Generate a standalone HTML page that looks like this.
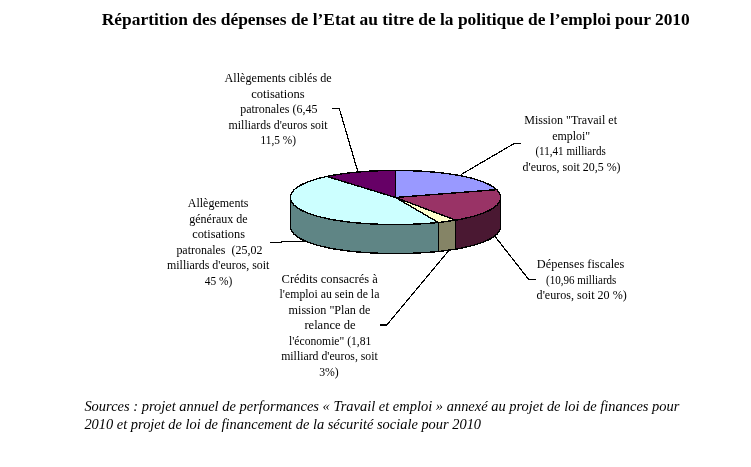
<!DOCTYPE html>
<html><head><meta charset="utf-8"><style>
html,body{margin:0;padding:0;background:#fff;}
svg{display:block;will-change:transform;}
.label{font-family:"Liberation Serif",serif;font-size:12.5px;}
.title{font-family:"Liberation Serif",serif;font-size:16.5px;font-weight:bold;}
.src{font-family:"Liberation Serif",serif;font-size:14.3px;font-style:italic;}
</style></head><body>
<svg width="751" height="467" viewBox="0 0 751 467">

<g stroke="none">
<polygon points="500.50,197.50 500.50,197.66 500.50,197.82 500.49,197.97 500.48,198.13 500.47,198.29 500.46,198.45 500.44,198.60 500.42,198.76 500.40,198.92 500.37,199.08 500.34,199.24 500.31,199.39 500.28,199.55 500.24,199.71 500.20,199.87 500.15,200.02 500.11,200.18 500.06,200.34 500.00,200.50 499.95,200.65 499.89,200.81 499.83,200.97 499.76,201.13 499.69,201.28 499.62,201.44 499.54,201.60 499.46,201.75 499.38,201.91 499.29,202.07 499.20,202.23 499.11,202.38 499.02,202.54 498.92,202.69 498.81,202.85 498.71,203.01 498.60,203.16 498.49,203.32 498.37,203.47 498.25,203.63 498.13,203.79 498.00,203.94 497.87,204.10 497.74,204.25 497.60,204.41 497.46,204.56 497.32,204.72 497.17,204.87 497.02,205.02 496.87,205.18 496.71,205.33 496.55,205.48 496.38,205.64 496.21,205.79 496.04,205.94 495.87,206.10 495.69,206.25 495.51,206.40 495.32,206.55 495.13,206.70 494.94,206.86 494.74,207.01 494.54,207.16 494.34,207.31 494.13,207.46 493.92,207.61 493.71,207.76 493.49,207.91 493.27,208.06 493.05,208.20 492.82,208.35 492.59,208.50 492.35,208.65 492.11,208.80 491.87,208.94 491.62,209.09 491.37,209.24 491.12,209.38 490.87,209.53 490.61,209.67 490.34,209.82 490.08,209.96 489.80,210.10 489.53,210.25 489.25,210.39 488.97,210.53 488.69,210.68 488.40,210.82 488.11,210.96 487.82,211.10 487.52,211.24 487.22,211.38 486.91,211.52 486.60,211.66 486.29,211.80 485.97,211.94 485.66,212.07 485.33,212.21 485.01,212.35 484.68,212.48 484.35,212.62 484.01,212.75 483.67,212.89 483.33,213.02 482.99,213.15 482.64,213.29 482.28,213.42 481.93,213.55 481.57,213.68 481.21,213.81 480.84,213.94 480.47,214.07 480.10,214.20 479.73,214.33 479.35,214.46 478.97,214.58 478.58,214.71 478.20,214.84 477.80,214.96 477.41,215.08 477.01,215.21 476.61,215.33 476.21,215.45 475.80,215.58 475.39,215.70 474.98,215.82 474.57,215.94 474.15,216.06 473.73,216.17 473.30,216.29 472.88,216.41 472.44,216.53 472.01,216.64 471.58,216.76 471.14,216.87 470.70,216.98 470.25,217.10 469.80,217.21 469.35,217.32 468.90,217.43 468.45,217.54 467.99,217.65 467.53,217.76 467.06,217.86 466.60,217.97 466.13,218.08 465.66,218.18 465.18,218.28 464.70,218.39 464.22,218.49 463.74,218.59 463.26,218.69 462.77,218.79 462.28,218.89 461.79,218.99 461.30,219.09 460.80,219.19 460.30,219.28 459.80,219.38 459.30,219.47 458.79,219.57 458.28,219.66 457.77,219.75 457.26,219.84 456.74,219.93 456.23,220.02 455.71,220.11 455.71,249.11 456.23,249.02 456.74,248.93 457.26,248.84 457.77,248.75 458.28,248.66 458.79,248.57 459.30,248.47 459.80,248.38 460.30,248.28 460.80,248.19 461.30,248.09 461.79,247.99 462.28,247.89 462.77,247.79 463.26,247.69 463.74,247.59 464.22,247.49 464.70,247.39 465.18,247.28 465.66,247.18 466.13,247.08 466.60,246.97 467.06,246.86 467.53,246.76 467.99,246.65 468.45,246.54 468.90,246.43 469.35,246.32 469.80,246.21 470.25,246.10 470.70,245.98 471.14,245.87 471.58,245.76 472.01,245.64 472.44,245.53 472.88,245.41 473.30,245.29 473.73,245.17 474.15,245.06 474.57,244.94 474.98,244.82 475.39,244.70 475.80,244.58 476.21,244.45 476.61,244.33 477.01,244.21 477.41,244.08 477.80,243.96 478.20,243.84 478.58,243.71 478.97,243.58 479.35,243.46 479.73,243.33 480.10,243.20 480.47,243.07 480.84,242.94 481.21,242.81 481.57,242.68 481.93,242.55 482.28,242.42 482.64,242.29 482.99,242.15 483.33,242.02 483.67,241.89 484.01,241.75 484.35,241.62 484.68,241.48 485.01,241.35 485.33,241.21 485.66,241.07 485.97,240.94 486.29,240.80 486.60,240.66 486.91,240.52 487.22,240.38 487.52,240.24 487.82,240.10 488.11,239.96 488.40,239.82 488.69,239.68 488.97,239.53 489.25,239.39 489.53,239.25 489.80,239.10 490.08,238.96 490.34,238.82 490.61,238.67 490.87,238.53 491.12,238.38 491.37,238.24 491.62,238.09 491.87,237.94 492.11,237.80 492.35,237.65 492.59,237.50 492.82,237.35 493.05,237.20 493.27,237.06 493.49,236.91 493.71,236.76 493.92,236.61 494.13,236.46 494.34,236.31 494.54,236.16 494.74,236.01 494.94,235.86 495.13,235.70 495.32,235.55 495.51,235.40 495.69,235.25 495.87,235.10 496.04,234.94 496.21,234.79 496.38,234.64 496.55,234.48 496.71,234.33 496.87,234.18 497.02,234.02 497.17,233.87 497.32,233.72 497.46,233.56 497.60,233.41 497.74,233.25 497.87,233.10 498.00,232.94 498.13,232.79 498.25,232.63 498.37,232.47 498.49,232.32 498.60,232.16 498.71,232.01 498.81,231.85 498.92,231.69 499.02,231.54 499.11,231.38 499.20,231.23 499.29,231.07 499.38,230.91 499.46,230.75 499.54,230.60 499.62,230.44 499.69,230.28 499.76,230.13 499.83,229.97 499.89,229.81 499.95,229.65 500.00,229.50 500.06,229.34 500.11,229.18 500.15,229.02 500.20,228.87 500.24,228.71 500.28,228.55 500.31,228.39 500.34,228.24 500.37,228.08 500.40,227.92 500.42,227.76 500.44,227.60 500.46,227.45 500.47,227.29 500.48,227.13 500.49,226.97 500.50,226.82 500.50,226.66 500.50,226.50" fill="#4A1832"/>
<polygon points="455.71,220.11 455.18,220.20 454.64,220.29 454.11,220.38 453.57,220.46 453.03,220.55 452.48,220.64 451.94,220.72 451.39,220.80 450.84,220.88 450.29,220.97 449.74,221.05 449.18,221.13 448.63,221.21 448.07,221.28 447.51,221.36 446.95,221.44 446.38,221.51 445.82,221.58 445.25,221.66 444.68,221.73 444.11,221.80 443.54,221.87 442.96,221.94 442.39,222.01 441.81,222.08 441.23,222.14 440.65,222.21 440.07,222.27 439.48,222.34 438.90,222.40 438.31,222.46 438.31,251.46 438.90,251.40 439.48,251.34 440.07,251.27 440.65,251.21 441.23,251.14 441.81,251.08 442.39,251.01 442.96,250.94 443.54,250.87 444.11,250.80 444.68,250.73 445.25,250.66 445.82,250.58 446.38,250.51 446.95,250.44 447.51,250.36 448.07,250.28 448.63,250.21 449.18,250.13 449.74,250.05 450.29,249.97 450.84,249.88 451.39,249.80 451.94,249.72 452.48,249.64 453.03,249.55 453.57,249.46 454.11,249.38 454.64,249.29 455.18,249.20 455.71,249.11" fill="#858466"/>
<polygon points="438.31,222.46 437.74,222.52 437.17,222.58 436.59,222.64 436.01,222.69 435.43,222.75 434.85,222.80 434.27,222.86 433.69,222.91 433.11,222.96 432.52,223.01 431.94,223.07 431.35,223.11 430.77,223.16 430.18,223.21 429.59,223.26 429.00,223.30 428.41,223.35 427.82,223.39 427.22,223.44 426.63,223.48 426.03,223.52 425.44,223.56 424.84,223.60 424.25,223.64 423.65,223.68 423.05,223.71 422.45,223.75 421.85,223.78 421.25,223.82 420.65,223.85 420.05,223.88 419.45,223.92 418.84,223.95 418.24,223.98 417.64,224.01 417.03,224.03 416.43,224.06 415.82,224.09 415.21,224.11 414.61,224.14 414.00,224.16 413.39,224.19 412.79,224.21 412.18,224.23 411.57,224.25 410.96,224.27 410.35,224.29 409.74,224.31 409.14,224.32 408.53,224.34 407.92,224.35 407.31,224.37 406.70,224.38 406.09,224.40 405.47,224.41 404.86,224.42 404.25,224.43 403.64,224.44 403.03,224.45 402.42,224.46 401.81,224.46 401.20,224.47 400.59,224.48 399.97,224.48 399.36,224.49 398.75,224.49 398.14,224.49 397.53,224.50 396.92,224.50 396.31,224.50 395.69,224.50 395.08,224.50 394.47,224.50 393.86,224.50 393.25,224.50 392.64,224.49 392.02,224.49 391.41,224.49 390.80,224.48 390.19,224.48 389.58,224.47 388.97,224.46 388.36,224.45 387.74,224.45 387.13,224.44 386.52,224.43 385.91,224.42 385.30,224.40 384.69,224.39 384.08,224.38 383.47,224.36 382.86,224.35 382.25,224.33 381.64,224.32 381.03,224.30 380.42,224.28 379.81,224.26 379.21,224.24 378.60,224.22 377.99,224.20 377.38,224.18 376.78,224.15 376.17,224.13 375.56,224.10 374.96,224.08 374.35,224.05 373.75,224.02 373.14,224.00 372.54,223.97 371.94,223.94 371.33,223.90 370.73,223.87 370.13,223.84 369.53,223.81 368.93,223.77 368.33,223.74 367.73,223.70 367.13,223.66 366.53,223.62 365.94,223.59 365.34,223.55 364.75,223.50 364.15,223.46 363.56,223.42 362.97,223.38 362.38,223.33 361.78,223.29 361.19,223.24 360.61,223.19 360.02,223.15 359.43,223.10 358.85,223.05 358.26,223.00 357.68,222.94 357.09,222.89 356.51,222.84 355.93,222.78 355.35,222.73 354.78,222.67 354.20,222.62 353.62,222.56 353.05,222.50 352.48,222.44 351.90,222.38 351.33,222.32 350.77,222.25 350.20,222.19 349.63,222.13 349.07,222.06 348.50,222.00 347.94,221.93 347.38,221.86 346.82,221.79 346.27,221.72 345.71,221.65 345.16,221.58 344.61,221.51 344.06,221.44 343.51,221.36 342.96,221.29 342.41,221.21 341.87,221.13 341.33,221.06 340.79,220.98 340.25,220.90 339.72,220.82 339.18,220.74 338.65,220.66 338.12,220.57 337.59,220.49 337.06,220.40 336.54,220.32 336.02,220.23 335.50,220.15 334.98,220.06 334.46,219.97 333.95,219.88 333.44,219.79 332.93,219.70 332.42,219.61 331.92,219.51 331.41,219.42 330.91,219.32 330.41,219.23 329.92,219.13 329.43,219.03 328.93,218.94 328.45,218.84 327.96,218.74 327.48,218.64 326.99,218.54 326.52,218.44 326.04,218.33 325.57,218.23 325.09,218.12 324.63,218.02 324.16,217.91 323.70,217.81 323.24,217.70 322.78,217.59 322.32,217.48 321.87,217.37 321.42,217.26 320.97,217.15 320.53,217.04 320.09,216.93 319.65,216.81 319.21,216.70 318.78,216.59 318.35,216.47 317.92,216.35 317.50,216.24 317.08,216.12 316.66,216.00 316.24,215.88 315.83,215.76 315.42,215.64 315.01,215.52 314.61,215.40 314.21,215.28 313.81,215.15 313.42,215.03 313.03,214.91 312.64,214.78 312.25,214.66 311.87,214.53 311.49,214.40 311.12,214.28 310.75,214.15 310.38,214.02 310.01,213.89 309.65,213.76 309.29,213.63 308.93,213.50 308.58,213.37 308.23,213.24 307.88,213.10 307.54,212.97 307.20,212.84 306.86,212.70 306.53,212.57 306.20,212.43 305.88,212.30 305.55,212.16 305.23,212.03 304.92,211.89 304.60,211.75 304.29,211.61 303.99,211.47 303.68,211.33 303.39,211.19 303.09,211.05 302.80,210.91 302.51,210.77 302.22,210.63 301.94,210.49 301.66,210.35 301.39,210.21 301.11,210.06 300.85,209.92 300.58,209.77 300.32,209.63 300.06,209.49 299.81,209.34 299.56,209.20 299.31,209.05 299.07,208.90 298.82,208.76 298.59,208.61 298.35,208.46 298.12,208.32 297.90,208.17 297.68,208.02 297.46,207.87 297.24,207.72 297.03,207.57 296.82,207.42 296.61,207.27 296.41,207.12 296.21,206.97 296.02,206.82 295.83,206.67 295.64,206.52 295.46,206.37 295.27,206.22 295.10,206.07 294.92,205.91 294.75,205.76 294.59,205.61 294.42,205.46 294.26,205.30 294.11,205.15 293.95,205.00 293.80,204.84 293.66,204.69 293.52,204.54 293.38,204.38 293.24,204.23 293.11,204.07 292.98,203.92 292.85,203.76 292.73,203.61 292.61,203.45 292.50,203.30 292.39,203.14 292.28,202.99 292.17,202.83 292.07,202.68 291.97,202.52 291.88,202.36 291.79,202.21 291.70,202.05 291.61,201.90 291.53,201.74 291.45,201.58 291.38,201.43 291.30,201.27 291.24,201.11 291.17,200.96 291.11,200.80 291.05,200.64 290.99,200.49 290.94,200.33 290.89,200.17 290.84,200.02 290.80,199.86 290.76,199.70 290.72,199.54 290.69,199.39 290.66,199.23 290.63,199.07 290.60,198.92 290.58,198.76 290.56,198.60 290.54,198.44 290.53,198.29 290.52,198.13 290.51,197.97 290.50,197.81 290.50,197.66 290.50,197.50 290.50,226.50 290.50,226.66 290.50,226.81 290.51,226.97 290.52,227.13 290.53,227.29 290.54,227.44 290.56,227.60 290.58,227.76 290.60,227.92 290.63,228.07 290.66,228.23 290.69,228.39 290.72,228.54 290.76,228.70 290.80,228.86 290.84,229.02 290.89,229.17 290.94,229.33 290.99,229.49 291.05,229.64 291.11,229.80 291.17,229.96 291.24,230.11 291.30,230.27 291.38,230.43 291.45,230.58 291.53,230.74 291.61,230.90 291.70,231.05 291.79,231.21 291.88,231.36 291.97,231.52 292.07,231.68 292.17,231.83 292.28,231.99 292.39,232.14 292.50,232.30 292.61,232.45 292.73,232.61 292.85,232.76 292.98,232.92 293.11,233.07 293.24,233.23 293.38,233.38 293.52,233.54 293.66,233.69 293.80,233.84 293.95,234.00 294.11,234.15 294.26,234.30 294.42,234.46 294.59,234.61 294.75,234.76 294.92,234.91 295.10,235.07 295.27,235.22 295.46,235.37 295.64,235.52 295.83,235.67 296.02,235.82 296.21,235.97 296.41,236.12 296.61,236.27 296.82,236.42 297.03,236.57 297.24,236.72 297.46,236.87 297.68,237.02 297.90,237.17 298.12,237.32 298.35,237.46 298.59,237.61 298.82,237.76 299.07,237.90 299.31,238.05 299.56,238.20 299.81,238.34 300.06,238.49 300.32,238.63 300.58,238.77 300.85,238.92 301.11,239.06 301.39,239.21 301.66,239.35 301.94,239.49 302.22,239.63 302.51,239.77 302.80,239.91 303.09,240.05 303.39,240.19 303.68,240.33 303.99,240.47 304.29,240.61 304.60,240.75 304.92,240.89 305.23,241.03 305.55,241.16 305.88,241.30 306.20,241.43 306.53,241.57 306.86,241.70 307.20,241.84 307.54,241.97 307.88,242.10 308.23,242.24 308.58,242.37 308.93,242.50 309.29,242.63 309.65,242.76 310.01,242.89 310.38,243.02 310.75,243.15 311.12,243.28 311.49,243.40 311.87,243.53 312.25,243.66 312.64,243.78 313.03,243.91 313.42,244.03 313.81,244.15 314.21,244.28 314.61,244.40 315.01,244.52 315.42,244.64 315.83,244.76 316.24,244.88 316.66,245.00 317.08,245.12 317.50,245.24 317.92,245.35 318.35,245.47 318.78,245.59 319.21,245.70 319.65,245.81 320.09,245.93 320.53,246.04 320.97,246.15 321.42,246.26 321.87,246.37 322.32,246.48 322.78,246.59 323.24,246.70 323.70,246.81 324.16,246.91 324.63,247.02 325.09,247.12 325.57,247.23 326.04,247.33 326.52,247.44 326.99,247.54 327.48,247.64 327.96,247.74 328.45,247.84 328.93,247.94 329.43,248.03 329.92,248.13 330.41,248.23 330.91,248.32 331.41,248.42 331.92,248.51 332.42,248.61 332.93,248.70 333.44,248.79 333.95,248.88 334.46,248.97 334.98,249.06 335.50,249.15 336.02,249.23 336.54,249.32 337.06,249.40 337.59,249.49 338.12,249.57 338.65,249.66 339.18,249.74 339.72,249.82 340.25,249.90 340.79,249.98 341.33,250.06 341.87,250.13 342.41,250.21 342.96,250.29 343.51,250.36 344.06,250.44 344.61,250.51 345.16,250.58 345.71,250.65 346.27,250.72 346.82,250.79 347.38,250.86 347.94,250.93 348.50,251.00 349.07,251.06 349.63,251.13 350.20,251.19 350.77,251.25 351.33,251.32 351.90,251.38 352.48,251.44 353.05,251.50 353.62,251.56 354.20,251.62 354.78,251.67 355.35,251.73 355.93,251.78 356.51,251.84 357.09,251.89 357.68,251.94 358.26,252.00 358.85,252.05 359.43,252.10 360.02,252.15 360.61,252.19 361.19,252.24 361.78,252.29 362.38,252.33 362.97,252.38 363.56,252.42 364.15,252.46 364.75,252.50 365.34,252.55 365.94,252.59 366.53,252.62 367.13,252.66 367.73,252.70 368.33,252.74 368.93,252.77 369.53,252.81 370.13,252.84 370.73,252.87 371.33,252.90 371.94,252.94 372.54,252.97 373.14,253.00 373.75,253.02 374.35,253.05 374.96,253.08 375.56,253.10 376.17,253.13 376.78,253.15 377.38,253.18 377.99,253.20 378.60,253.22 379.21,253.24 379.81,253.26 380.42,253.28 381.03,253.30 381.64,253.32 382.25,253.33 382.86,253.35 383.47,253.36 384.08,253.38 384.69,253.39 385.30,253.40 385.91,253.42 386.52,253.43 387.13,253.44 387.74,253.45 388.36,253.45 388.97,253.46 389.58,253.47 390.19,253.48 390.80,253.48 391.41,253.49 392.02,253.49 392.64,253.49 393.25,253.50 393.86,253.50 394.47,253.50 395.08,253.50 395.69,253.50 396.31,253.50 396.92,253.50 397.53,253.50 398.14,253.49 398.75,253.49 399.36,253.49 399.97,253.48 400.59,253.48 401.20,253.47 401.81,253.46 402.42,253.46 403.03,253.45 403.64,253.44 404.25,253.43 404.86,253.42 405.47,253.41 406.09,253.40 406.70,253.38 407.31,253.37 407.92,253.35 408.53,253.34 409.14,253.32 409.74,253.31 410.35,253.29 410.96,253.27 411.57,253.25 412.18,253.23 412.79,253.21 413.39,253.19 414.00,253.16 414.61,253.14 415.21,253.11 415.82,253.09 416.43,253.06 417.03,253.03 417.64,253.01 418.24,252.98 418.84,252.95 419.45,252.92 420.05,252.88 420.65,252.85 421.25,252.82 421.85,252.78 422.45,252.75 423.05,252.71 423.65,252.68 424.25,252.64 424.84,252.60 425.44,252.56 426.03,252.52 426.63,252.48 427.22,252.44 427.82,252.39 428.41,252.35 429.00,252.30 429.59,252.26 430.18,252.21 430.77,252.16 431.35,252.11 431.94,252.07 432.52,252.01 433.11,251.96 433.69,251.91 434.27,251.86 434.85,251.80 435.43,251.75 436.01,251.69 436.59,251.64 437.17,251.58 437.74,251.52 438.31,251.46" fill="#5F8585"/>
<polygon points="395.50,197.50 395.50,170.50 396.11,170.50 396.73,170.50 397.34,170.50 397.95,170.50 398.56,170.51 399.18,170.51 399.79,170.52 400.40,170.52 401.01,170.53 401.62,170.53 402.24,170.54 402.85,170.55 403.46,170.56 404.07,170.57 404.69,170.58 405.30,170.59 405.91,170.60 406.52,170.61 407.13,170.63 407.74,170.64 408.35,170.66 408.96,170.67 409.57,170.69 410.18,170.71 410.79,170.73 411.40,170.75 412.01,170.77 412.62,170.79 413.23,170.81 413.84,170.83 414.45,170.86 415.05,170.88 415.66,170.91 416.27,170.93 416.87,170.96 417.48,170.99 418.08,171.02 418.69,171.05 419.29,171.08 419.89,171.11 420.50,171.14 421.10,171.17 421.70,171.21 422.30,171.24 422.90,171.28 423.50,171.31 424.10,171.35 424.70,171.39 425.30,171.43 425.89,171.47 426.49,171.51 427.08,171.55 427.68,171.60 428.27,171.64 428.86,171.69 429.45,171.73 430.04,171.78 430.63,171.83 431.22,171.87 431.81,171.92 432.40,171.97 432.98,172.03 433.57,172.08 434.15,172.13 434.73,172.18 435.31,172.24 435.89,172.29 436.47,172.35 437.05,172.41 437.62,172.47 438.20,172.53 438.77,172.59 439.34,172.65 439.91,172.71 440.48,172.77 441.05,172.84 441.62,172.90 442.18,172.97 442.74,173.03 443.31,173.10 443.87,173.17 444.42,173.24 444.98,173.31 445.54,173.38 446.09,173.45 446.64,173.52 447.19,173.60 447.74,173.67 448.29,173.75 448.83,173.82 449.38,173.90 449.92,173.98 450.46,174.06 451.00,174.14 451.53,174.22 452.07,174.30 452.60,174.38 453.13,174.47 453.66,174.55 454.18,174.64 454.71,174.72 455.23,174.81 455.75,174.90 456.27,174.98 456.78,175.07 457.30,175.16 457.81,175.26 458.32,175.35 458.83,175.44 459.33,175.53 459.83,175.63 460.33,175.72 460.83,175.82 461.33,175.92 461.82,176.01 462.31,176.11 462.80,176.21 463.28,176.31 463.77,176.41 464.25,176.51 464.73,176.62 465.20,176.72 465.67,176.82 466.14,176.93 466.61,177.03 467.08,177.14 467.54,177.25 468.00,177.36 468.46,177.46 468.91,177.57 469.36,177.68 469.81,177.80 470.26,177.91 470.70,178.02 471.14,178.13 471.58,178.25 472.02,178.36 472.45,178.48 472.88,178.59 473.30,178.71 473.73,178.83 474.15,178.94 474.57,179.06 474.98,179.18 475.39,179.30 475.80,179.42 476.21,179.54 476.61,179.67 477.01,179.79 477.40,179.91 477.80,180.04 478.19,180.16 478.57,180.29 478.96,180.41 479.34,180.54 479.72,180.67 480.09,180.80 480.46,180.92 480.83,181.05 481.19,181.18 481.56,181.31 481.91,181.44 482.27,181.57 482.62,181.71 482.97,181.84 483.31,181.97 483.66,182.11 483.99,182.24 484.33,182.37 484.66,182.51 484.99,182.65 485.31,182.78 485.64,182.92 485.95,183.06 486.27,183.19 486.58,183.33 486.89,183.47 487.19,183.61 487.49,183.75 487.79,183.89 488.09,184.03 488.38,184.17 488.66,184.31 488.95,184.45 489.23,184.60 489.51,184.74 489.78,184.88 490.05,185.03 490.32,185.17 490.58,185.31 490.84,185.46 491.10,185.60 491.35,185.75 491.60,185.90 491.84,186.04 492.08,186.19 492.32,186.33 492.56,186.48 492.79,186.63 493.02,186.78 493.24,186.93 493.46,187.07 493.68,187.22 493.90,187.37 494.11,187.52 494.31,187.67 494.52,187.82 494.72,187.97 494.91,188.12 495.10,188.27 495.29,188.43 495.48,188.58 495.66,188.73 495.84,188.88 496.02,189.03 496.19,189.19 496.36,189.34 496.52,189.49 496.68,189.64" fill="#9999FF"/>
<polygon points="395.50,197.50 496.68,189.64 496.84,189.80 496.99,189.95 497.15,190.10 497.29,190.26 497.44,190.41 497.58,190.57 497.71,190.72 497.85,190.87 497.98,191.03 498.10,191.18 498.23,191.34 498.35,191.49 498.46,191.65 498.58,191.80 498.69,191.96 498.79,192.11 498.89,192.27 498.99,192.43 499.09,192.58 499.18,192.74 499.27,192.89 499.36,193.05 499.44,193.21 499.52,193.36 499.60,193.52 499.67,193.68 499.74,193.83 499.81,193.99 499.87,194.15 499.93,194.30 499.99,194.46 500.04,194.62 500.09,194.77 500.14,194.93 500.19,195.09 500.23,195.24 500.27,195.40 500.30,195.56 500.33,195.72 500.36,195.87 500.39,196.03 500.41,196.19 500.43,196.34 500.45,196.50 500.47,196.66 500.48,196.82 500.49,196.97 500.49,197.13 500.50,197.29 500.50,197.44 500.50,197.60 500.50,197.76 500.49,197.92 500.48,198.07 500.47,198.23 500.46,198.39 500.45,198.54 500.43,198.70 500.41,198.86 500.38,199.02 500.35,199.17 500.32,199.33 500.29,199.49 500.25,199.65 500.22,199.80 500.17,199.96 500.13,200.12 500.08,200.27 500.03,200.43 499.97,200.59 499.91,200.74 499.85,200.90 499.79,201.06 499.72,201.21 499.65,201.37 499.58,201.53 499.50,201.68 499.42,201.84 499.33,202.00 499.25,202.15 499.16,202.31 499.06,202.46 498.97,202.62 498.86,202.78 498.76,202.93 498.65,203.09 498.54,203.24 498.43,203.40 498.31,203.55 498.19,203.71 498.07,203.86 497.94,204.02 497.81,204.17 497.67,204.33 497.54,204.48 497.39,204.63 497.25,204.79 497.10,204.94 496.95,205.09 496.79,205.25 496.64,205.40 496.47,205.55 496.31,205.71 496.14,205.86 495.97,206.01 495.79,206.16 495.61,206.31 495.43,206.46 495.24,206.62 495.05,206.77 494.86,206.92 494.66,207.07 494.46,207.22 494.26,207.37 494.05,207.52 493.84,207.67 493.62,207.82 493.41,207.96 493.18,208.11 492.96,208.26 492.73,208.41 492.50,208.56 492.26,208.70 492.02,208.85 491.78,209.00 491.54,209.14 491.29,209.29 491.03,209.43 490.78,209.58 490.52,209.72 490.25,209.86 489.99,210.01 489.72,210.15 489.44,210.29 489.16,210.44 488.88,210.58 488.60,210.72 488.31,210.86 488.02,211.00 487.73,211.14 487.43,211.28 487.13,211.42 486.82,211.56 486.51,211.70 486.20,211.84 485.89,211.97 485.57,212.11 485.25,212.25 484.92,212.38 484.59,212.52 484.26,212.65 483.93,212.79 483.59,212.92 483.25,213.05 482.90,213.19 482.55,213.32 482.20,213.45 481.85,213.58 481.49,213.71 481.13,213.84 480.76,213.97 480.39,214.10 480.02,214.23 479.65,214.36 479.27,214.48 478.89,214.61 478.51,214.73 478.12,214.86 477.73,214.98 477.34,215.11 476.94,215.23 476.54,215.35 476.14,215.47 475.74,215.60 475.33,215.72 474.92,215.84 474.50,215.96 474.08,216.07 473.66,216.19 473.24,216.31 472.82,216.43 472.39,216.54 471.95,216.66 471.52,216.77 471.08,216.88 470.64,217.00 470.20,217.11 469.75,217.22 469.30,217.33 468.85,217.44 468.40,217.55 467.94,217.66 467.48,217.77 467.02,217.87 466.56,217.98 466.09,218.08 465.62,218.19 465.15,218.29 464.67,218.40 464.19,218.50 463.71,218.60 463.23,218.70 462.75,218.80 462.26,218.90 461.77,219.00 461.28,219.09 460.78,219.19 460.28,219.29 459.78,219.38 459.28,219.48 458.78,219.57 458.27,219.66 457.76,219.75 457.25,219.84 456.74,219.93 456.23,220.02 455.71,220.11" fill="#993366"/>
<polygon points="395.50,197.50 455.71,220.11 455.18,220.20 454.64,220.29 454.11,220.38 453.57,220.46 453.03,220.55 452.48,220.64 451.94,220.72 451.39,220.80 450.84,220.88 450.29,220.97 449.74,221.05 449.18,221.13 448.63,221.21 448.07,221.28 447.51,221.36 446.95,221.44 446.38,221.51 445.82,221.58 445.25,221.66 444.68,221.73 444.11,221.80 443.54,221.87 442.96,221.94 442.39,222.01 441.81,222.08 441.23,222.14 440.65,222.21 440.07,222.27 439.48,222.34 438.90,222.40 438.31,222.46" fill="#FFFFCC"/>
<polygon points="395.50,197.50 438.31,222.46 437.74,222.52 437.17,222.58 436.59,222.64 436.01,222.69 435.44,222.75 434.86,222.80 434.28,222.86 433.69,222.91 433.11,222.96 432.53,223.01 431.94,223.06 431.36,223.11 430.77,223.16 430.18,223.21 429.59,223.26 429.00,223.30 428.41,223.35 427.82,223.39 427.23,223.44 426.63,223.48 426.04,223.52 425.44,223.56 424.85,223.60 424.25,223.64 423.65,223.68 423.06,223.71 422.46,223.75 421.86,223.78 421.26,223.82 420.66,223.85 420.05,223.88 419.45,223.92 418.85,223.95 418.25,223.98 417.64,224.01 417.04,224.03 416.43,224.06 415.83,224.09 415.22,224.11 414.62,224.14 414.01,224.16 413.40,224.18 412.80,224.21 412.19,224.23 411.58,224.25 410.97,224.27 410.36,224.29 409.76,224.31 409.15,224.32 408.54,224.34 407.93,224.35 407.32,224.37 406.71,224.38 406.10,224.40 405.49,224.41 404.88,224.42 404.27,224.43 403.65,224.44 403.04,224.45 402.43,224.46 401.82,224.46 401.21,224.47 400.60,224.48 399.99,224.48 399.38,224.49 398.77,224.49 398.15,224.49 397.54,224.50 396.93,224.50 396.32,224.50 395.71,224.50 395.10,224.50 394.49,224.50 393.87,224.50 393.26,224.50 392.65,224.49 392.04,224.49 391.43,224.49 390.82,224.48 390.21,224.48 389.60,224.47 388.98,224.46 388.37,224.45 387.76,224.45 387.15,224.44 386.54,224.43 385.93,224.42 385.32,224.40 384.71,224.39 384.10,224.38 383.49,224.36 382.88,224.35 382.27,224.33 381.66,224.32 381.05,224.30 380.44,224.28 379.83,224.26 379.23,224.24 378.62,224.22 378.01,224.20 377.40,224.18 376.80,224.15 376.19,224.13 375.59,224.11 374.98,224.08 374.37,224.05 373.77,224.03 373.17,224.00 372.56,223.97 371.96,223.94 371.36,223.91 370.76,223.87 370.15,223.84 369.55,223.81 368.95,223.77 368.35,223.74 367.76,223.70 367.16,223.66 366.56,223.63 365.96,223.59 365.37,223.55 364.77,223.51 364.18,223.46 363.59,223.42 362.99,223.38 362.40,223.33 361.81,223.29 361.22,223.24 360.63,223.20 360.05,223.15 359.46,223.10 358.87,223.05 358.29,223.00 357.70,222.95 357.12,222.89 356.54,222.84 355.96,222.79 355.38,222.73 354.80,222.68 354.23,222.62 353.65,222.56 353.08,222.50 352.51,222.44 351.93,222.38 351.36,222.32 350.79,222.26 350.23,222.19 349.66,222.13 349.10,222.07 348.53,222.00 347.97,221.93 347.41,221.86 346.85,221.80 346.30,221.73 345.74,221.66 345.19,221.59 344.64,221.51 344.09,221.44 343.54,221.37 342.99,221.29 342.45,221.22 341.90,221.14 341.36,221.06 340.82,220.98 340.28,220.90 339.75,220.82 339.21,220.74 338.68,220.66 338.15,220.58 337.62,220.49 337.10,220.41 336.57,220.32 336.05,220.24 335.53,220.15 335.01,220.06 334.50,219.97 333.98,219.89 333.47,219.79 332.96,219.70 332.45,219.61 331.95,219.52 331.45,219.42 330.95,219.33 330.45,219.23 329.95,219.14 329.46,219.04 328.97,218.94 328.48,218.84 327.99,218.75 327.51,218.65 327.03,218.54 326.55,218.44 326.07,218.34 325.60,218.24 325.13,218.13 324.66,218.03 324.19,217.92 323.73,217.81 323.27,217.71 322.81,217.60 322.36,217.49 321.90,217.38 321.45,217.27 321.01,217.16 320.56,217.05 320.12,216.94 319.68,216.82 319.25,216.71 318.81,216.59 318.38,216.48 317.96,216.36 317.53,216.25 317.11,216.13 316.69,216.01 316.28,215.89 315.86,215.77 315.45,215.65 315.05,215.53 314.64,215.41 314.24,215.29 313.84,215.16 313.45,215.04 313.06,214.92 312.67,214.79 312.29,214.67 311.90,214.54 311.53,214.41 311.15,214.29 310.78,214.16 310.41,214.03 310.04,213.90 309.68,213.77 309.32,213.64 308.96,213.51 308.61,213.38 308.26,213.25 307.91,213.12 307.57,212.98 307.23,212.85 306.89,212.72 306.56,212.58 306.23,212.45 305.90,212.31 305.58,212.17 305.26,212.04 304.94,211.90 304.63,211.76 304.32,211.62 304.01,211.49 303.71,211.35 303.41,211.21 303.12,211.07 302.82,210.93 302.53,210.79 302.25,210.64 301.97,210.50 301.69,210.36 301.41,210.22 301.14,210.08 300.87,209.93 300.61,209.79 300.34,209.64 300.09,209.50 299.83,209.35 299.58,209.21 299.33,209.06 299.09,208.92 298.85,208.77 298.61,208.62 298.38,208.48 298.15,208.33 297.92,208.18 297.70,208.03 297.48,207.89 297.26,207.74 297.05,207.59 296.84,207.44 296.63,207.29 296.43,207.14 296.23,206.99 296.04,206.84 295.85,206.69 295.66,206.54 295.47,206.38 295.29,206.23 295.12,206.08 294.94,205.93 294.77,205.78 294.60,205.62 294.44,205.47 294.28,205.32 294.12,205.17 293.97,205.01 293.82,204.86 293.67,204.71 293.53,204.55 293.39,204.40 293.25,204.24 293.12,204.09 292.99,203.93 292.87,203.78 292.74,203.63 292.63,203.47 292.51,203.31 292.40,203.16 292.29,203.00 292.18,202.85 292.08,202.69 291.98,202.54 291.89,202.38 291.80,202.23 291.71,202.07 291.62,201.91 291.54,201.76 291.46,201.60 291.38,201.44 291.31,201.29 291.24,201.13 291.18,200.97 291.11,200.82 291.05,200.66 291.00,200.50 290.95,200.35 290.90,200.19 290.85,200.03 290.80,199.88 290.76,199.72 290.73,199.56 290.69,199.41 290.66,199.25 290.63,199.09 290.61,198.93 290.58,198.78 290.56,198.62 290.55,198.46 290.53,198.31 290.52,198.15 290.51,197.99 290.50,197.83 290.50,197.68 290.50,197.52 290.50,197.36 290.50,197.20 290.51,197.05 290.52,196.89 290.53,196.73 290.54,196.58 290.56,196.42 290.58,196.26 290.60,196.10 290.62,195.95 290.65,195.79 290.68,195.63 290.72,195.48 290.75,195.32 290.79,195.16 290.84,195.00 290.88,194.85 290.93,194.69 290.99,194.53 291.04,194.38 291.10,194.22 291.16,194.06 291.23,193.91 291.29,193.75 291.37,193.59 291.44,193.44 291.52,193.28 291.60,193.12 291.69,192.97 291.77,192.81 291.86,192.66 291.96,192.50 292.06,192.34 292.16,192.19 292.26,192.03 292.37,191.88 292.48,191.72 292.60,191.57 292.72,191.41 292.84,191.26 292.96,191.10 293.09,190.95 293.22,190.79 293.36,190.64 293.50,190.49 293.64,190.33 293.78,190.18 293.93,190.02 294.08,189.87 294.24,189.72 294.40,189.57 294.56,189.41 294.73,189.26 294.90,189.11 295.07,188.96 295.25,188.80 295.43,188.65 295.61,188.50 295.80,188.35 295.99,188.20 296.19,188.05 296.38,187.90 296.58,187.75 296.79,187.60 297.00,187.45 297.21,187.30 297.42,187.15 297.64,187.00 297.87,186.85 298.09,186.71 298.32,186.56 298.55,186.41 298.79,186.27 299.03,186.12 299.27,185.97 299.52,185.83 299.77,185.68 300.02,185.54 300.28,185.39 300.54,185.25 300.81,185.10 301.07,184.96 301.34,184.82 301.62,184.67 301.90,184.53 302.18,184.39 302.46,184.25 302.75,184.11 303.04,183.97 303.34,183.83 303.64,183.69 303.94,183.55 304.25,183.41 304.55,183.27 304.87,183.13 305.18,183.00 305.50,182.86 305.82,182.72 306.15,182.59 306.48,182.45 306.81,182.32 307.15,182.18 307.49,182.05 307.83,181.92 308.18,181.78 308.52,181.65 308.88,181.52 309.23,181.39 309.59,181.26 309.95,181.13 310.32,181.00 310.69,180.87 311.06,180.74 311.43,180.62 311.81,180.49 312.19,180.36 312.58,180.24 312.96,180.11 313.35,179.99 313.75,179.87 314.14,179.74 314.54,179.62 314.95,179.50 315.35,179.38 315.76,179.26 316.17,179.14 316.59,179.02 317.01,178.90 317.43,178.78 317.85,178.67 318.28,178.55 318.71,178.43 319.14,178.32 319.57,178.21 320.01,178.09 320.45,177.98 320.90,177.87 321.34,177.76 321.79,177.65 322.25,177.54 322.70,177.43 323.16,177.32 323.62,177.21 324.08,177.10 324.54,177.00 325.01,176.89 325.48,176.79 325.96,176.69 326.43,176.58 326.91,176.48" fill="#CCFFFF"/>
<polygon points="395.50,197.50 326.91,176.48 327.39,176.38 327.87,176.28 328.36,176.18 328.85,176.08 329.34,175.98 329.83,175.89 330.32,175.79 330.82,175.69 331.32,175.60 331.82,175.51 332.33,175.41 332.83,175.32 333.34,175.23 333.85,175.14 334.36,175.05 334.88,174.96 335.40,174.87 335.91,174.78 336.44,174.70 336.96,174.61 337.48,174.53 338.01,174.44 338.54,174.36 339.07,174.28 339.61,174.20 340.14,174.12 340.68,174.04 341.22,173.96 341.76,173.88 342.30,173.81 342.84,173.73 343.39,173.65 343.94,173.58 344.49,173.51 345.04,173.43 345.59,173.36 346.14,173.29 346.70,173.22 347.26,173.15 347.82,173.09 348.38,173.02 348.94,172.95 349.50,172.89 350.07,172.82 350.64,172.76 351.20,172.70 351.77,172.64 352.34,172.57 352.92,172.51 353.49,172.46 354.06,172.40 354.64,172.34 355.22,172.28 355.79,172.23 356.37,172.17 356.95,172.12 357.54,172.07 358.12,172.02 358.70,171.97 359.29,171.92 359.87,171.87 360.46,171.82 361.05,171.77 361.64,171.72 362.23,171.68 362.82,171.63 363.41,171.59 364.00,171.55 364.59,171.51 365.19,171.47 365.78,171.43 366.38,171.39 366.98,171.35 367.57,171.31 368.17,171.27 368.77,171.24 369.37,171.20 369.97,171.17 370.57,171.14 371.17,171.10 371.77,171.07 372.38,171.04 372.98,171.01 373.58,170.98 374.19,170.96 374.79,170.93 375.39,170.90 376.00,170.88 376.61,170.85 377.21,170.83 377.82,170.81 378.43,170.79 379.03,170.76 379.64,170.74 380.25,170.72 380.86,170.71 381.46,170.69 382.07,170.67 382.68,170.66 383.29,170.64 383.90,170.63 384.51,170.61 385.12,170.60 385.73,170.59 386.34,170.58 386.95,170.57 387.56,170.56 388.17,170.55 388.78,170.54 389.39,170.53 390.00,170.53 390.61,170.52 391.22,170.52 391.83,170.51 392.45,170.51 393.06,170.50 393.67,170.50 394.28,170.50 394.89,170.50 395.50,170.50" fill="#660066"/>
</g>
<g stroke="#000" stroke-width="1.4" fill="none" stroke-linejoin="round" shape-rendering="crispEdges">
<polygon points="395.50,170.50 396.11,170.50 396.72,170.50 397.33,170.50 397.94,170.50 398.55,170.51 399.17,170.51 399.78,170.52 400.39,170.52 401.00,170.53 401.61,170.53 402.22,170.54 402.83,170.55 403.44,170.56 404.05,170.57 404.66,170.58 405.27,170.59 405.88,170.60 406.49,170.61 407.10,170.63 407.71,170.64 408.32,170.66 408.93,170.67 409.54,170.69 410.14,170.71 410.75,170.72 411.36,170.74 411.97,170.76 412.57,170.79 413.18,170.81 413.79,170.83 414.39,170.85 415.00,170.88 415.61,170.90 416.21,170.93 416.81,170.96 417.42,170.98 418.02,171.01 418.62,171.04 419.23,171.07 419.83,171.10 420.43,171.14 421.03,171.17 421.63,171.20 422.23,171.24 422.83,171.27 423.43,171.31 424.02,171.35 424.62,171.39 425.22,171.43 425.81,171.47 426.41,171.51 427.00,171.55 427.59,171.59 428.18,171.63 428.77,171.68 429.36,171.72 429.95,171.77 430.54,171.82 431.13,171.87 431.71,171.92 432.30,171.97 432.88,172.02 433.46,172.07 434.05,172.12 434.63,172.17 435.21,172.23 435.78,172.28 436.36,172.34 436.94,172.40 437.51,172.46 438.08,172.51 438.66,172.57 439.23,172.64 439.80,172.70 440.36,172.76 440.93,172.82 441.50,172.89 442.06,172.95 442.62,173.02 443.18,173.09 443.74,173.15 444.30,173.22 444.86,173.29 445.41,173.36 445.96,173.43 446.51,173.51 447.06,173.58 447.61,173.65 448.16,173.73 448.70,173.81 449.24,173.88 449.78,173.96 450.32,174.04 450.86,174.12 451.39,174.20 451.93,174.28 452.46,174.36 452.99,174.44 453.52,174.53 454.04,174.61 454.56,174.70 455.09,174.78 455.60,174.87 456.12,174.96 456.64,175.05 457.15,175.14 457.66,175.23 458.17,175.32 458.67,175.41 459.18,175.51 459.68,175.60 460.18,175.69 460.68,175.79 461.17,175.89 461.66,175.98 462.15,176.08 462.64,176.18 463.13,176.28 463.61,176.38 464.09,176.48 464.57,176.58 465.04,176.69 465.52,176.79 465.99,176.89 466.45,177.00 466.92,177.10 467.38,177.21 467.84,177.32 468.30,177.43 468.75,177.53 469.20,177.64 469.65,177.75 470.10,177.87 470.54,177.98 470.98,178.09 471.42,178.20 471.85,178.32 472.29,178.43 472.72,178.55 473.14,178.66 473.57,178.78 473.99,178.90 474.40,179.02 474.82,179.14 475.23,179.25 475.64,179.38 476.04,179.50 476.45,179.62 476.85,179.74 477.24,179.86 477.64,179.99 478.03,180.11 478.41,180.23 478.80,180.36 479.18,180.49 479.56,180.61 479.93,180.74 480.30,180.87 480.67,181.00 481.04,181.13 481.40,181.26 481.76,181.39 482.11,181.52 482.46,181.65 482.81,181.78 483.16,181.91 483.50,182.04 483.84,182.18 484.17,182.31 484.51,182.45 484.84,182.58 485.16,182.72 485.48,182.85 485.80,182.99 486.12,183.13 486.43,183.26 486.74,183.40 487.05,183.54 487.35,183.68 487.65,183.82 487.94,183.96 488.23,184.10 488.52,184.24 488.81,184.38 489.09,184.52 489.37,184.67 489.64,184.81 489.91,184.95 490.18,185.10 490.44,185.24 490.70,185.38 490.96,185.53 491.22,185.67 491.47,185.82 491.71,185.96 491.96,186.11 492.20,186.26 492.43,186.40 492.66,186.55 492.89,186.70 493.12,186.84 493.34,186.99 493.56,187.14 493.78,187.29 493.99,187.44 494.20,187.59 494.40,187.74 494.60,187.89 494.80,188.04 494.99,188.19 495.19,188.34 495.37,188.49 495.56,188.64 495.74,188.79 495.91,188.94 496.09,189.10 496.26,189.25 496.42,189.40 496.59,189.55 496.75,189.71 496.90,189.86 497.06,190.01 497.20,190.17 497.35,190.32 497.49,190.47 497.63,190.63 497.77,190.78 497.90,190.93 498.03,191.09 498.15,191.24 498.27,191.40 498.39,191.55 498.51,191.71 498.62,191.86 498.73,192.02 498.83,192.17 498.93,192.33 499.03,192.49 499.13,192.64 499.22,192.80 499.31,192.95 499.39,193.11 499.47,193.27 499.55,193.42 499.63,193.58 499.70,193.73 499.77,193.89 499.83,194.05 499.89,194.20 499.95,194.36 500.01,194.52 500.06,194.67 500.11,194.83 500.16,194.99 500.20,195.14 500.24,195.30 500.28,195.46 500.31,195.62 500.34,195.77 500.37,195.93 500.40,196.09 500.42,196.24 500.44,196.40 500.46,196.56 500.47,196.71 500.48,196.87 500.49,197.03 500.50,197.19 500.50,197.34 500.50,197.50 500.50,197.66 500.50,197.81 500.49,197.97 500.48,198.13 500.47,198.29 500.46,198.44 500.44,198.60 500.42,198.76 500.40,198.91 500.37,199.07 500.34,199.23 500.31,199.38 500.28,199.54 500.24,199.70 500.20,199.86 500.16,200.01 500.11,200.17 500.06,200.33 500.01,200.48 499.95,200.64 499.89,200.80 499.83,200.95 499.77,201.11 499.70,201.27 499.63,201.42 499.55,201.58 499.47,201.73 499.39,201.89 499.31,202.05 499.22,202.20 499.13,202.36 499.03,202.51 498.93,202.67 498.83,202.83 498.73,202.98 498.62,203.14 498.51,203.29 498.39,203.45 498.27,203.60 498.15,203.76 498.03,203.91 497.90,204.07 497.77,204.22 497.63,204.37 497.49,204.53 497.35,204.68 497.20,204.83 497.06,204.99 496.90,205.14 496.75,205.29 496.59,205.45 496.42,205.60 496.26,205.75 496.09,205.90 495.91,206.06 495.74,206.21 495.56,206.36 495.37,206.51 495.19,206.66 494.99,206.81 494.80,206.96 494.60,207.11 494.40,207.26 494.20,207.41 493.99,207.56 493.78,207.71 493.56,207.86 493.34,208.01 493.12,208.16 492.89,208.30 492.66,208.45 492.43,208.60 492.20,208.74 491.96,208.89 491.71,209.04 491.47,209.18 491.22,209.33 490.96,209.47 490.70,209.62 490.44,209.76 490.18,209.90 489.91,210.05 489.64,210.19 489.37,210.33 489.09,210.48 488.81,210.62 488.52,210.76 488.23,210.90 487.94,211.04 487.65,211.18 487.35,211.32 487.05,211.46 486.74,211.60 486.43,211.74 486.12,211.87 485.80,212.01 485.48,212.15 485.16,212.28 484.84,212.42 484.51,212.55 484.17,212.69 483.84,212.82 483.50,212.96 483.16,213.09 482.81,213.22 482.46,213.35 482.11,213.48 481.76,213.61 481.40,213.74 481.04,213.87 480.67,214.00 480.30,214.13 479.93,214.26 479.56,214.39 479.18,214.51 478.80,214.64 478.41,214.77 478.03,214.89 477.64,215.01 477.24,215.14 476.85,215.26 476.45,215.38 476.04,215.50 475.64,215.62 475.23,215.75 474.82,215.86 474.40,215.98 473.99,216.10 473.57,216.22 473.14,216.34 472.72,216.45 472.29,216.57 471.85,216.68 471.42,216.80 470.98,216.91 470.54,217.02 470.10,217.13 469.65,217.25 469.20,217.36 468.75,217.47 468.30,217.57 467.84,217.68 467.38,217.79 466.92,217.90 466.45,218.00 465.99,218.11 465.52,218.21 465.04,218.31 464.57,218.42 464.09,218.52 463.61,218.62 463.13,218.72 462.64,218.82 462.15,218.92 461.66,219.02 461.17,219.11 460.68,219.21 460.18,219.31 459.68,219.40 459.18,219.49 458.67,219.59 458.17,219.68 457.66,219.77 457.15,219.86 456.64,219.95 456.12,220.04 455.60,220.13 455.09,220.22 454.56,220.30 454.04,220.39 453.52,220.47 452.99,220.56 452.46,220.64 451.93,220.72 451.39,220.80 450.86,220.88 450.32,220.96 449.78,221.04 449.24,221.12 448.70,221.19 448.16,221.27 447.61,221.35 447.06,221.42 446.51,221.49 445.96,221.57 445.41,221.64 444.86,221.71 444.30,221.78 443.74,221.85 443.18,221.91 442.62,221.98 442.06,222.05 441.50,222.11 440.93,222.18 440.36,222.24 439.80,222.30 439.23,222.36 438.66,222.43 438.08,222.49 437.51,222.54 436.94,222.60 436.36,222.66 435.78,222.72 435.21,222.77 434.63,222.83 434.05,222.88 433.46,222.93 432.88,222.98 432.30,223.03 431.71,223.08 431.13,223.13 430.54,223.18 429.95,223.23 429.36,223.28 428.77,223.32 428.18,223.37 427.59,223.41 427.00,223.45 426.41,223.49 425.81,223.53 425.22,223.57 424.62,223.61 424.02,223.65 423.43,223.69 422.83,223.73 422.23,223.76 421.63,223.80 421.03,223.83 420.43,223.86 419.83,223.90 419.23,223.93 418.62,223.96 418.02,223.99 417.42,224.02 416.81,224.04 416.21,224.07 415.61,224.10 415.00,224.12 414.39,224.15 413.79,224.17 413.18,224.19 412.57,224.21 411.97,224.24 411.36,224.26 410.75,224.28 410.14,224.29 409.54,224.31 408.93,224.33 408.32,224.34 407.71,224.36 407.10,224.37 406.49,224.39 405.88,224.40 405.27,224.41 404.66,224.42 404.05,224.43 403.44,224.44 402.83,224.45 402.22,224.46 401.61,224.47 401.00,224.47 400.39,224.48 399.78,224.48 399.17,224.49 398.55,224.49 397.94,224.50 397.33,224.50 396.72,224.50 396.11,224.50 395.50,224.50 394.89,224.50 394.28,224.50 393.67,224.50 393.06,224.50 392.45,224.49 391.83,224.49 391.22,224.48 390.61,224.48 390.00,224.47 389.39,224.47 388.78,224.46 388.17,224.45 387.56,224.44 386.95,224.43 386.34,224.42 385.73,224.41 385.12,224.40 384.51,224.39 383.90,224.37 383.29,224.36 382.68,224.34 382.07,224.33 381.46,224.31 380.86,224.29 380.25,224.28 379.64,224.26 379.03,224.24 378.43,224.21 377.82,224.19 377.21,224.17 376.61,224.15 376.00,224.12 375.39,224.10 374.79,224.07 374.19,224.04 373.58,224.02 372.98,223.99 372.38,223.96 371.77,223.93 371.17,223.90 370.57,223.86 369.97,223.83 369.37,223.80 368.77,223.76 368.17,223.73 367.57,223.69 366.98,223.65 366.38,223.61 365.78,223.57 365.19,223.53 364.59,223.49 364.00,223.45 363.41,223.41 362.82,223.37 362.23,223.32 361.64,223.28 361.05,223.23 360.46,223.18 359.87,223.13 359.29,223.08 358.70,223.03 358.12,222.98 357.54,222.93 356.95,222.88 356.37,222.83 355.79,222.77 355.22,222.72 354.64,222.66 354.06,222.60 353.49,222.54 352.92,222.49 352.34,222.43 351.77,222.36 351.20,222.30 350.64,222.24 350.07,222.18 349.50,222.11 348.94,222.05 348.38,221.98 347.82,221.91 347.26,221.85 346.70,221.78 346.14,221.71 345.59,221.64 345.04,221.57 344.49,221.49 343.94,221.42 343.39,221.35 342.84,221.27 342.30,221.19 341.76,221.12 341.22,221.04 340.68,220.96 340.14,220.88 339.61,220.80 339.07,220.72 338.54,220.64 338.01,220.56 337.48,220.47 336.96,220.39 336.44,220.30 335.91,220.22 335.40,220.13 334.88,220.04 334.36,219.95 333.85,219.86 333.34,219.77 332.83,219.68 332.33,219.59 331.82,219.49 331.32,219.40 330.82,219.31 330.32,219.21 329.83,219.11 329.34,219.02 328.85,218.92 328.36,218.82 327.87,218.72 327.39,218.62 326.91,218.52 326.43,218.42 325.96,218.31 325.48,218.21 325.01,218.11 324.55,218.00 324.08,217.90 323.62,217.79 323.16,217.68 322.70,217.57 322.25,217.47 321.80,217.36 321.35,217.25 320.90,217.13 320.46,217.02 320.02,216.91 319.58,216.80 319.15,216.68 318.71,216.57 318.28,216.45 317.86,216.34 317.43,216.22 317.01,216.10 316.60,215.98 316.18,215.86 315.77,215.75 315.36,215.62 314.96,215.50 314.55,215.38 314.15,215.26 313.76,215.14 313.36,215.01 312.97,214.89 312.59,214.77 312.20,214.64 311.82,214.51 311.44,214.39 311.07,214.26 310.70,214.13 310.33,214.00 309.96,213.87 309.60,213.74 309.24,213.61 308.89,213.48 308.54,213.35 308.19,213.22 307.84,213.09 307.50,212.96 307.16,212.82 306.83,212.69 306.49,212.55 306.16,212.42 305.84,212.28 305.52,212.15 305.20,212.01 304.88,211.87 304.57,211.74 304.26,211.60 303.95,211.46 303.65,211.32 303.35,211.18 303.06,211.04 302.77,210.90 302.48,210.76 302.19,210.62 301.91,210.48 301.63,210.33 301.36,210.19 301.09,210.05 300.82,209.90 300.56,209.76 300.30,209.62 300.04,209.47 299.78,209.33 299.53,209.18 299.29,209.04 299.04,208.89 298.80,208.74 298.57,208.60 298.34,208.45 298.11,208.30 297.88,208.16 297.66,208.01 297.44,207.86 297.22,207.71 297.01,207.56 296.80,207.41 296.60,207.26 296.40,207.11 296.20,206.96 296.01,206.81 295.81,206.66 295.63,206.51 295.44,206.36 295.26,206.21 295.09,206.06 294.91,205.90 294.74,205.75 294.58,205.60 294.41,205.45 294.25,205.29 294.10,205.14 293.94,204.99 293.80,204.83 293.65,204.68 293.51,204.53 293.37,204.37 293.23,204.22 293.10,204.07 292.97,203.91 292.85,203.76 292.73,203.60 292.61,203.45 292.49,203.29 292.38,203.14 292.27,202.98 292.17,202.83 292.07,202.67 291.97,202.51 291.87,202.36 291.78,202.20 291.69,202.05 291.61,201.89 291.53,201.73 291.45,201.58 291.37,201.42 291.30,201.27 291.23,201.11 291.17,200.95 291.11,200.80 291.05,200.64 290.99,200.48 290.94,200.33 290.89,200.17 290.84,200.01 290.80,199.86 290.76,199.70 290.72,199.54 290.69,199.38 290.66,199.23 290.63,199.07 290.60,198.91 290.58,198.76 290.56,198.60 290.54,198.44 290.53,198.29 290.52,198.13 290.51,197.97 290.50,197.81 290.50,197.66 290.50,197.50 290.50,197.34 290.50,197.19 290.51,197.03 290.52,196.87 290.53,196.71 290.54,196.56 290.56,196.40 290.58,196.24 290.60,196.09 290.63,195.93 290.66,195.77 290.69,195.62 290.72,195.46 290.76,195.30 290.80,195.14 290.84,194.99 290.89,194.83 290.94,194.67 290.99,194.52 291.05,194.36 291.11,194.20 291.17,194.05 291.23,193.89 291.30,193.73 291.37,193.58 291.45,193.42 291.53,193.27 291.61,193.11 291.69,192.95 291.78,192.80 291.87,192.64 291.97,192.49 292.07,192.33 292.17,192.17 292.27,192.02 292.38,191.86 292.49,191.71 292.61,191.55 292.73,191.40 292.85,191.24 292.97,191.09 293.10,190.93 293.23,190.78 293.37,190.63 293.51,190.47 293.65,190.32 293.80,190.17 293.94,190.01 294.10,189.86 294.25,189.71 294.41,189.55 294.58,189.40 294.74,189.25 294.91,189.10 295.09,188.94 295.26,188.79 295.44,188.64 295.63,188.49 295.81,188.34 296.01,188.19 296.20,188.04 296.40,187.89 296.60,187.74 296.80,187.59 297.01,187.44 297.22,187.29 297.44,187.14 297.66,186.99 297.88,186.84 298.11,186.70 298.34,186.55 298.57,186.40 298.80,186.26 299.04,186.11 299.29,185.96 299.53,185.82 299.78,185.67 300.04,185.53 300.30,185.38 300.56,185.24 300.82,185.10 301.09,184.95 301.36,184.81 301.63,184.67 301.91,184.52 302.19,184.38 302.48,184.24 302.77,184.10 303.06,183.96 303.35,183.82 303.65,183.68 303.95,183.54 304.26,183.40 304.57,183.26 304.88,183.13 305.20,182.99 305.52,182.85 305.84,182.72 306.16,182.58 306.49,182.45 306.83,182.31 307.16,182.18 307.50,182.04 307.84,181.91 308.19,181.78 308.54,181.65 308.89,181.52 309.24,181.39 309.60,181.26 309.96,181.13 310.33,181.00 310.70,180.87 311.07,180.74 311.44,180.61 311.82,180.49 312.20,180.36 312.59,180.23 312.97,180.11 313.36,179.99 313.76,179.86 314.15,179.74 314.55,179.62 314.96,179.50 315.36,179.38 315.77,179.25 316.18,179.14 316.60,179.02 317.01,178.90 317.43,178.78 317.86,178.66 318.28,178.55 318.71,178.43 319.15,178.32 319.58,178.20 320.02,178.09 320.46,177.98 320.90,177.87 321.35,177.75 321.80,177.64 322.25,177.53 322.70,177.43 323.16,177.32 323.62,177.21 324.08,177.10 324.55,177.00 325.01,176.89 325.48,176.79 325.96,176.69 326.43,176.58 326.91,176.48 327.39,176.38 327.87,176.28 328.36,176.18 328.85,176.08 329.34,175.98 329.83,175.89 330.32,175.79 330.82,175.69 331.32,175.60 331.82,175.51 332.33,175.41 332.83,175.32 333.34,175.23 333.85,175.14 334.36,175.05 334.88,174.96 335.40,174.87 335.91,174.78 336.44,174.70 336.96,174.61 337.48,174.53 338.01,174.44 338.54,174.36 339.07,174.28 339.61,174.20 340.14,174.12 340.68,174.04 341.22,173.96 341.76,173.88 342.30,173.81 342.84,173.73 343.39,173.65 343.94,173.58 344.49,173.51 345.04,173.43 345.59,173.36 346.14,173.29 346.70,173.22 347.26,173.15 347.82,173.09 348.38,173.02 348.94,172.95 349.50,172.89 350.07,172.82 350.64,172.76 351.20,172.70 351.77,172.64 352.34,172.57 352.92,172.51 353.49,172.46 354.06,172.40 354.64,172.34 355.22,172.28 355.79,172.23 356.37,172.17 356.95,172.12 357.54,172.07 358.12,172.02 358.70,171.97 359.29,171.92 359.87,171.87 360.46,171.82 361.05,171.77 361.64,171.72 362.23,171.68 362.82,171.63 363.41,171.59 364.00,171.55 364.59,171.51 365.19,171.47 365.78,171.43 366.38,171.39 366.98,171.35 367.57,171.31 368.17,171.27 368.77,171.24 369.37,171.20 369.97,171.17 370.57,171.14 371.17,171.10 371.77,171.07 372.38,171.04 372.98,171.01 373.58,170.98 374.19,170.96 374.79,170.93 375.39,170.90 376.00,170.88 376.61,170.85 377.21,170.83 377.82,170.81 378.43,170.79 379.03,170.76 379.64,170.74 380.25,170.72 380.86,170.71 381.46,170.69 382.07,170.67 382.68,170.66 383.29,170.64 383.90,170.63 384.51,170.61 385.12,170.60 385.73,170.59 386.34,170.58 386.95,170.57 387.56,170.56 388.17,170.55 388.78,170.54 389.39,170.53 390.00,170.53 390.61,170.52 391.22,170.52 391.83,170.51 392.45,170.51 393.06,170.50 393.67,170.50 394.28,170.50 394.89,170.50 395.50,170.50"/>
<polyline points="500.50,226.50 500.50,226.66 500.50,226.81 500.49,226.97 500.48,227.13 500.47,227.29 500.46,227.44 500.44,227.60 500.42,227.76 500.40,227.91 500.37,228.07 500.34,228.23 500.31,228.38 500.28,228.54 500.24,228.70 500.20,228.86 500.16,229.01 500.11,229.17 500.06,229.33 500.01,229.48 499.95,229.64 499.89,229.80 499.83,229.95 499.77,230.11 499.70,230.27 499.63,230.42 499.55,230.58 499.47,230.73 499.39,230.89 499.31,231.05 499.22,231.20 499.13,231.36 499.03,231.51 498.93,231.67 498.83,231.83 498.73,231.98 498.62,232.14 498.51,232.29 498.39,232.45 498.27,232.60 498.15,232.76 498.03,232.91 497.90,233.07 497.77,233.22 497.63,233.37 497.49,233.53 497.35,233.68 497.20,233.83 497.06,233.99 496.90,234.14 496.75,234.29 496.59,234.45 496.42,234.60 496.26,234.75 496.09,234.90 495.91,235.06 495.74,235.21 495.56,235.36 495.37,235.51 495.19,235.66 494.99,235.81 494.80,235.96 494.60,236.11 494.40,236.26 494.20,236.41 493.99,236.56 493.78,236.71 493.56,236.86 493.34,237.01 493.12,237.16 492.89,237.30 492.66,237.45 492.43,237.60 492.20,237.74 491.96,237.89 491.71,238.04 491.47,238.18 491.22,238.33 490.96,238.47 490.70,238.62 490.44,238.76 490.18,238.90 489.91,239.05 489.64,239.19 489.37,239.33 489.09,239.48 488.81,239.62 488.52,239.76 488.23,239.90 487.94,240.04 487.65,240.18 487.35,240.32 487.05,240.46 486.74,240.60 486.43,240.74 486.12,240.87 485.80,241.01 485.48,241.15 485.16,241.28 484.84,241.42 484.51,241.55 484.17,241.69 483.84,241.82 483.50,241.96 483.16,242.09 482.81,242.22 482.46,242.35 482.11,242.48 481.76,242.61 481.40,242.74 481.04,242.87 480.67,243.00 480.30,243.13 479.93,243.26 479.56,243.39 479.18,243.51 478.80,243.64 478.41,243.77 478.03,243.89 477.64,244.01 477.24,244.14 476.85,244.26 476.45,244.38 476.04,244.50 475.64,244.62 475.23,244.75 474.82,244.86 474.40,244.98 473.99,245.10 473.57,245.22 473.14,245.34 472.72,245.45 472.29,245.57 471.85,245.68 471.42,245.80 470.98,245.91 470.54,246.02 470.10,246.13 469.65,246.25 469.20,246.36 468.75,246.47 468.30,246.57 467.84,246.68 467.38,246.79 466.92,246.90 466.45,247.00 465.99,247.11 465.52,247.21 465.04,247.31 464.57,247.42 464.09,247.52 463.61,247.62 463.13,247.72 462.64,247.82 462.15,247.92 461.66,248.02 461.17,248.11 460.68,248.21 460.18,248.31 459.68,248.40 459.18,248.49 458.67,248.59 458.17,248.68 457.66,248.77 457.15,248.86 456.64,248.95 456.12,249.04 455.60,249.13 455.09,249.22 454.56,249.30 454.04,249.39 453.52,249.47 452.99,249.56 452.46,249.64 451.93,249.72 451.39,249.80 450.86,249.88 450.32,249.96 449.78,250.04 449.24,250.12 448.70,250.19 448.16,250.27 447.61,250.35 447.06,250.42 446.51,250.49 445.96,250.57 445.41,250.64 444.86,250.71 444.30,250.78 443.74,250.85 443.18,250.91 442.62,250.98 442.06,251.05 441.50,251.11 440.93,251.18 440.36,251.24 439.80,251.30 439.23,251.36 438.66,251.43 438.08,251.49 437.51,251.54 436.94,251.60 436.36,251.66 435.78,251.72 435.21,251.77 434.63,251.83 434.05,251.88 433.46,251.93 432.88,251.98 432.30,252.03 431.71,252.08 431.13,252.13 430.54,252.18 429.95,252.23 429.36,252.28 428.77,252.32 428.18,252.37 427.59,252.41 427.00,252.45 426.41,252.49 425.81,252.53 425.22,252.57 424.62,252.61 424.02,252.65 423.43,252.69 422.83,252.73 422.23,252.76 421.63,252.80 421.03,252.83 420.43,252.86 419.83,252.90 419.23,252.93 418.62,252.96 418.02,252.99 417.42,253.02 416.81,253.04 416.21,253.07 415.61,253.10 415.00,253.12 414.39,253.15 413.79,253.17 413.18,253.19 412.57,253.21 411.97,253.24 411.36,253.26 410.75,253.28 410.14,253.29 409.54,253.31 408.93,253.33 408.32,253.34 407.71,253.36 407.10,253.37 406.49,253.39 405.88,253.40 405.27,253.41 404.66,253.42 404.05,253.43 403.44,253.44 402.83,253.45 402.22,253.46 401.61,253.47 401.00,253.47 400.39,253.48 399.78,253.48 399.17,253.49 398.55,253.49 397.94,253.50 397.33,253.50 396.72,253.50 396.11,253.50 395.50,253.50 394.89,253.50 394.28,253.50 393.67,253.50 393.06,253.50 392.45,253.49 391.83,253.49 391.22,253.48 390.61,253.48 390.00,253.47 389.39,253.47 388.78,253.46 388.17,253.45 387.56,253.44 386.95,253.43 386.34,253.42 385.73,253.41 385.12,253.40 384.51,253.39 383.90,253.37 383.29,253.36 382.68,253.34 382.07,253.33 381.46,253.31 380.86,253.29 380.25,253.28 379.64,253.26 379.03,253.24 378.43,253.21 377.82,253.19 377.21,253.17 376.61,253.15 376.00,253.12 375.39,253.10 374.79,253.07 374.19,253.04 373.58,253.02 372.98,252.99 372.38,252.96 371.77,252.93 371.17,252.90 370.57,252.86 369.97,252.83 369.37,252.80 368.77,252.76 368.17,252.73 367.57,252.69 366.98,252.65 366.38,252.61 365.78,252.57 365.19,252.53 364.59,252.49 364.00,252.45 363.41,252.41 362.82,252.37 362.23,252.32 361.64,252.28 361.05,252.23 360.46,252.18 359.87,252.13 359.29,252.08 358.70,252.03 358.12,251.98 357.54,251.93 356.95,251.88 356.37,251.83 355.79,251.77 355.22,251.72 354.64,251.66 354.06,251.60 353.49,251.54 352.92,251.49 352.34,251.43 351.77,251.36 351.20,251.30 350.64,251.24 350.07,251.18 349.50,251.11 348.94,251.05 348.38,250.98 347.82,250.91 347.26,250.85 346.70,250.78 346.14,250.71 345.59,250.64 345.04,250.57 344.49,250.49 343.94,250.42 343.39,250.35 342.84,250.27 342.30,250.19 341.76,250.12 341.22,250.04 340.68,249.96 340.14,249.88 339.61,249.80 339.07,249.72 338.54,249.64 338.01,249.56 337.48,249.47 336.96,249.39 336.44,249.30 335.91,249.22 335.40,249.13 334.88,249.04 334.36,248.95 333.85,248.86 333.34,248.77 332.83,248.68 332.33,248.59 331.82,248.49 331.32,248.40 330.82,248.31 330.32,248.21 329.83,248.11 329.34,248.02 328.85,247.92 328.36,247.82 327.87,247.72 327.39,247.62 326.91,247.52 326.43,247.42 325.96,247.31 325.48,247.21 325.01,247.11 324.55,247.00 324.08,246.90 323.62,246.79 323.16,246.68 322.70,246.57 322.25,246.47 321.80,246.36 321.35,246.25 320.90,246.13 320.46,246.02 320.02,245.91 319.58,245.80 319.15,245.68 318.71,245.57 318.28,245.45 317.86,245.34 317.43,245.22 317.01,245.10 316.60,244.98 316.18,244.86 315.77,244.75 315.36,244.62 314.96,244.50 314.55,244.38 314.15,244.26 313.76,244.14 313.36,244.01 312.97,243.89 312.59,243.77 312.20,243.64 311.82,243.51 311.44,243.39 311.07,243.26 310.70,243.13 310.33,243.00 309.96,242.87 309.60,242.74 309.24,242.61 308.89,242.48 308.54,242.35 308.19,242.22 307.84,242.09 307.50,241.96 307.16,241.82 306.83,241.69 306.49,241.55 306.16,241.42 305.84,241.28 305.52,241.15 305.20,241.01 304.88,240.87 304.57,240.74 304.26,240.60 303.95,240.46 303.65,240.32 303.35,240.18 303.06,240.04 302.77,239.90 302.48,239.76 302.19,239.62 301.91,239.48 301.63,239.33 301.36,239.19 301.09,239.05 300.82,238.90 300.56,238.76 300.30,238.62 300.04,238.47 299.78,238.33 299.53,238.18 299.29,238.04 299.04,237.89 298.80,237.74 298.57,237.60 298.34,237.45 298.11,237.30 297.88,237.16 297.66,237.01 297.44,236.86 297.22,236.71 297.01,236.56 296.80,236.41 296.60,236.26 296.40,236.11 296.20,235.96 296.01,235.81 295.81,235.66 295.63,235.51 295.44,235.36 295.26,235.21 295.09,235.06 294.91,234.90 294.74,234.75 294.58,234.60 294.41,234.45 294.25,234.29 294.10,234.14 293.94,233.99 293.80,233.83 293.65,233.68 293.51,233.53 293.37,233.37 293.23,233.22 293.10,233.07 292.97,232.91 292.85,232.76 292.73,232.60 292.61,232.45 292.49,232.29 292.38,232.14 292.27,231.98 292.17,231.83 292.07,231.67 291.97,231.51 291.87,231.36 291.78,231.20 291.69,231.05 291.61,230.89 291.53,230.73 291.45,230.58 291.37,230.42 291.30,230.27 291.23,230.11 291.17,229.95 291.11,229.80 291.05,229.64 290.99,229.48 290.94,229.33 290.89,229.17 290.84,229.01 290.80,228.86 290.76,228.70 290.72,228.54 290.69,228.38 290.66,228.23 290.63,228.07 290.60,227.91 290.58,227.76 290.56,227.60 290.54,227.44 290.53,227.29 290.52,227.13 290.51,226.97 290.50,226.81 290.50,226.66 290.50,226.50"/>
<line x1="500.50" y1="197.50" x2="500.50" y2="226.50"/>
<line x1="290.50" y1="197.50" x2="290.50" y2="226.50"/>
<line x1="455.71" y1="220.11" x2="455.71" y2="249.11"/>
<line x1="438.31" y1="222.46" x2="438.31" y2="251.46"/>
<line x1="395.50" y1="197.50" x2="395.50" y2="170.50"/>
<line x1="395.50" y1="197.50" x2="496.68" y2="189.64"/>
<line x1="395.50" y1="197.50" x2="455.71" y2="220.11"/>
<line x1="395.50" y1="197.50" x2="438.31" y2="222.46"/>
<line x1="395.50" y1="197.50" x2="326.91" y2="176.48"/>
</g>
<g stroke="#000" stroke-width="1.2" fill="none" shape-rendering="crispEdges">
<polyline points="332.2,108.2 339.2,108.2 357.8,171.6" />
<polyline points="520.9,143.4 514.3,143.4 461,174.6" />
<polyline points="494.7,236 528.5,279.2 536,279.2" />
<polyline points="270,242.5 281.5,242.5 281.5,241.5 305,241.5" />
<polyline points="380.4,325 386.8,325 448.9,250.4" />
</g>
<g fill="#000">
<text x="224.60" y="81.90" textLength="107.00" lengthAdjust="spacingAndGlyphs" class="label">Allègements ciblés de</text>
<text x="251.20" y="97.70" textLength="53.40" lengthAdjust="spacingAndGlyphs" class="label">cotisations</text>
<text x="240.20" y="113.30" textLength="77.20" lengthAdjust="spacingAndGlyphs" class="label">patronales (6,45</text>
<text x="228.60" y="128.90" textLength="99.00" lengthAdjust="spacingAndGlyphs" class="label">milliards d'euros soit</text>
<text x="260.60" y="144.10" textLength="35.40" lengthAdjust="spacingAndGlyphs" class="label">11,5 %)</text>
<text x="524.20" y="124.00" textLength="92.80" lengthAdjust="spacingAndGlyphs" class="label">Mission "Travail et</text>
<text x="552.20" y="140.00" textLength="38.00" lengthAdjust="spacingAndGlyphs" class="label">emploi"</text>
<text x="535.40" y="154.60" textLength="70.40" lengthAdjust="spacingAndGlyphs" class="label">(11,41 milliards</text>
<text x="522.60" y="171.00" textLength="98.00" lengthAdjust="spacingAndGlyphs" class="label">d'euros, soit 20,5 %)</text>
<text x="536.80" y="268.20" textLength="87.60" lengthAdjust="spacingAndGlyphs" class="label">Dépenses fiscales</text>
<text x="546.00" y="283.80" textLength="70.40" lengthAdjust="spacingAndGlyphs" class="label">(10,96 milliards</text>
<text x="536.60" y="299.20" textLength="90.20" lengthAdjust="spacingAndGlyphs" class="label">d'euros, soit 20 %)</text>
<text x="187.80" y="207.40" textLength="60.60" lengthAdjust="spacingAndGlyphs" class="label">Allègements</text>
<text x="189.20" y="223.10" textLength="58.40" lengthAdjust="spacingAndGlyphs" class="label">généraux de</text>
<text x="192.20" y="237.80" textLength="52.80" lengthAdjust="spacingAndGlyphs" class="label">cotisations</text>
<text x="176.40" y="253.90" textLength="86.00" lengthAdjust="spacingAndGlyphs" class="label">patronales  (25,02</text>
<text x="167.00" y="269.10" textLength="102.40" lengthAdjust="spacingAndGlyphs" class="label">milliards d'euros, soit</text>
<text x="204.80" y="284.50" textLength="27.60" lengthAdjust="spacingAndGlyphs" class="label">45 %)</text>
<text x="281.60" y="283.30" textLength="96.20" lengthAdjust="spacingAndGlyphs" class="label">Crédits consacrés à</text>
<text x="279.60" y="298.00" textLength="99.80" lengthAdjust="spacingAndGlyphs" class="label">l'emploi au sein de la</text>
<text x="288.60" y="314.10" textLength="81.80" lengthAdjust="spacingAndGlyphs" class="label">mission "Plan de</text>
<text x="304.40" y="329.00" textLength="51.20" lengthAdjust="spacingAndGlyphs" class="label">relance de</text>
<text x="289.00" y="345.00" textLength="82.40" lengthAdjust="spacingAndGlyphs" class="label">l'économie" (1,81</text>
<text x="281.20" y="360.30" textLength="96.60" lengthAdjust="spacingAndGlyphs" class="label">milliard d'euros, soit</text>
<text x="319.20" y="376.00" textLength="19.60" lengthAdjust="spacingAndGlyphs" class="label">3%)</text>
<text x="101.80" y="24.70" textLength="588.00" lengthAdjust="spacingAndGlyphs" class="title">Répartition des dépenses de l’Etat au titre de la politique de l’emploi pour 2010</text>
<text x="84.40" y="410.90" textLength="595.00" lengthAdjust="spacingAndGlyphs" class="src">Sources : projet annuel de performances « Travail et emploi » annexé au projet de loi de finances pour</text>
<text x="84.40" y="428.60" textLength="396.70" lengthAdjust="spacingAndGlyphs" class="src">2010 et projet de loi de financement de la sécurité sociale pour 2010</text>
</g>
</svg>
</body></html>
